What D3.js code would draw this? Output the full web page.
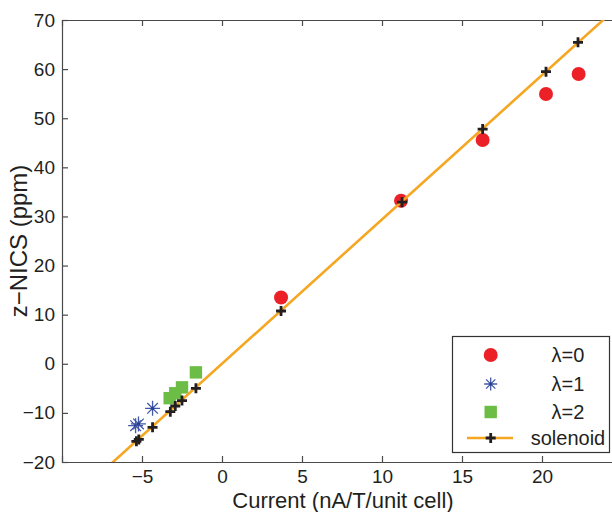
<!DOCTYPE html>
<html>
<head>
<meta charset="utf-8">
<script src="https://cdn.jsdelivr.net/npm/d3@7"></script>
<style>
  html, body { margin: 0; padding: 0; background: #fff; }
  svg { display: block; font-family: "Liberation Sans", Arial, Helvetica, sans-serif; }
</style>
</head>
<body>
<svg id="chart" width="612" height="512"></svg>
<script>
// ---- data ----
const lambda0X = [3.69, 11.19, 16.29, 20.25, 22.29];
const lambda0Y = [13.5, 33.2, 45.57, 54.93, 59.0];
const lambda1X = [-4.34, -5.4, -5.22];
const lambda1Y = [-9.07, -12.6, -12.25];
const lambda2X = [-1.63, -2.5, -2.92, -3.27];
const lambda2Y = [-1.75, -4.8, -6.0, -7.0];
const solenoidX = [22.25, 20.25, 16.29, 11.25, 3.69, -1.63, -2.5, -2.92, -3.23, -4.34, -5.2, -5.35];
const solenoidY = [65.46, 59.47, 47.8, 32.9, 10.75, -5.0, -7.5, -8.6, -9.76, -12.94, -15.4, -15.8];
const fitLineX = [-8, 26];
const fitLineY = [-23.5, 76.4];
const xTicks = [-5, 0, 5, 10, 15, 20];
const yTicks = [-20, -10, 0, 10, 20, 30, 40, 50, 60, 70];
const legendLabels = ["λ=0", "λ=1", "λ=2", "solenoid"];
const xLabel = "Current (nA/T/unit cell)";
const yLabel = "z\u2212NICS (ppm)";

// ---- styles ----
const C_RED = "#ec2027", C_BLUE = "#4358a8", C_GREEN = "#6cbd45", C_ORANGE = "#f5a622", C_BLACK = "#231f20", C_AXIS = "#4a4a4a";

const svg = d3.select("#chart");
const x = d3.scaleLinear().domain([-10, 25]).range([62, 622]);
const y = d3.scaleLinear().domain([-20, 70]).range([462, 20]);
const fmt = d => d < 0 ? "\u2212" + Math.abs(d) : String(d);

svg.append("defs").append("clipPath").attr("id", "clip")
  .append("rect").attr("x", 62).attr("y", 20).attr("width", 560).attr("height", 442);

// axes
const gx = svg.append("g").attr("transform", "translate(0,462)")
  .call(d3.axisBottom(x).tickValues(xTicks).tickSize(-6).tickPadding(8).tickFormat(fmt));
const gxt = svg.append("g").attr("transform", "translate(0,20)")
  .call(d3.axisTop(x).tickValues(xTicks).tickSize(-6).tickFormat(""));
const gy = svg.append("g").attr("transform", "translate(62,0)")
  .call(d3.axisLeft(y).tickValues(yTicks).tickSize(-6).tickPadding(7).tickFormat(fmt));
[gx, gxt, gy].forEach(g => {
  g.select(".domain").attr("stroke", C_AXIS).attr("stroke-width", 1.2);
  g.selectAll(".tick line").attr("stroke", C_AXIS).attr("stroke-width", 1.2);
  g.selectAll(".tick text").attr("fill", "#231f20").attr("font-size", 19)
    .attr("font-family", "Liberation Sans, Arial, sans-serif");
});

// axis labels
svg.append("text").attr("x", 343).attr("y", 508).attr("text-anchor", "middle")
  .attr("font-size", 22).attr("fill", "#231f20").text(xLabel);
svg.append("text").attr("transform", "translate(27,241) rotate(-90)").attr("text-anchor", "middle")
  .attr("font-size", 24).attr("fill", "#231f20").text(yLabel);

const plot = svg.append("g").attr("clip-path", "url(#clip)");

// marker helpers
function star(g, cx, cy, r) {
  const d = [];
  for (let k = 0; k < 4; k++) {
    const a = k * Math.PI / 4;
    d.push(`M${cx - r * Math.cos(a)},${cy - r * Math.sin(a)}L${cx + r * Math.cos(a)},${cy + r * Math.sin(a)}`);
  }
  g.append("path").attr("d", d.join("")).attr("stroke", C_BLUE).attr("stroke-width", 1.3).attr("fill", "none");
  g.append("circle").attr("cx", cx).attr("cy", cy).attr("r", 1.6).attr("fill", "#2b3f8f");
}
function plus(g, cx, cy, r) {
  g.append("path").attr("d", `M${cx - r},${cy}L${cx + r},${cy}M${cx},${cy - r}L${cx},${cy + r}`)
    .attr("stroke", C_BLACK).attr("stroke-width", 2.8).attr("fill", "none");
}

// λ=0 circles
plot.selectAll("circle.l0").data(lambda0X.map((v, i) => [v, lambda0Y[i]])).enter()
  .append("circle").attr("class", "l0").attr("cx", d => x(d[0])).attr("cy", d => y(d[1]))
  .attr("r", 7).attr("fill", C_RED);
// λ=1 stars
lambda1X.forEach((v, i) => star(plot, x(v), y(lambda1Y[i]), 7.5));
// λ=2 squares
plot.selectAll("rect.l2").data(lambda2X.map((v, i) => [v, lambda2Y[i]])).enter()
  .append("rect").attr("class", "l2").attr("x", d => x(d[0]) - 6.2).attr("y", d => y(d[1]) - 6.2)
  .attr("width", 12.4).attr("height", 12.4).attr("fill", C_GREEN);
// solenoid line + pluses
plot.append("path").datum(fitLineX.map((v, i) => [v, fitLineY[i]]))
  .attr("d", d3.line().x(d => x(d[0])).y(d => y(d[1])))
  .attr("stroke", C_ORANGE).attr("stroke-width", 2.6).attr("fill", "none");
solenoidX.forEach((v, i) => plus(plot, x(v), y(solenoidY[i]), 5));

// legend
const lg = svg.append("g");
lg.append("rect").attr("x", 452.5).attr("y", 336.5).attr("width", 157).attr("height", 116)
  .attr("fill", "#fff").attr("stroke", "#333").attr("stroke-width", 1.2);
const rowY = [355, 384, 412, 438];
lg.append("circle").attr("cx", 490.7).attr("cy", rowY[0]).attr("r", 7).attr("fill", C_RED);
star(lg, 490.7, rowY[1], 6.5);
lg.append("rect").attr("x", 490.7 - 6.2).attr("y", rowY[2] - 6.2).attr("width", 12.4).attr("height", 12.4).attr("fill", C_GREEN);
lg.append("line").attr("x1", 467).attr("x2", 513).attr("y1", rowY[3]).attr("y2", rowY[3])
  .attr("stroke", C_ORANGE).attr("stroke-width", 2.6);
plus(lg, 490.7, rowY[3], 5);
legendLabels.forEach((t, i) => {
  lg.append("text").attr("x", 568).attr("y", rowY[i]).attr("dy", "0.35em").attr("text-anchor", "middle")
    .attr("font-size", 20).attr("fill", "#231f20").text(t);
});
</script>
</body>
</html>
